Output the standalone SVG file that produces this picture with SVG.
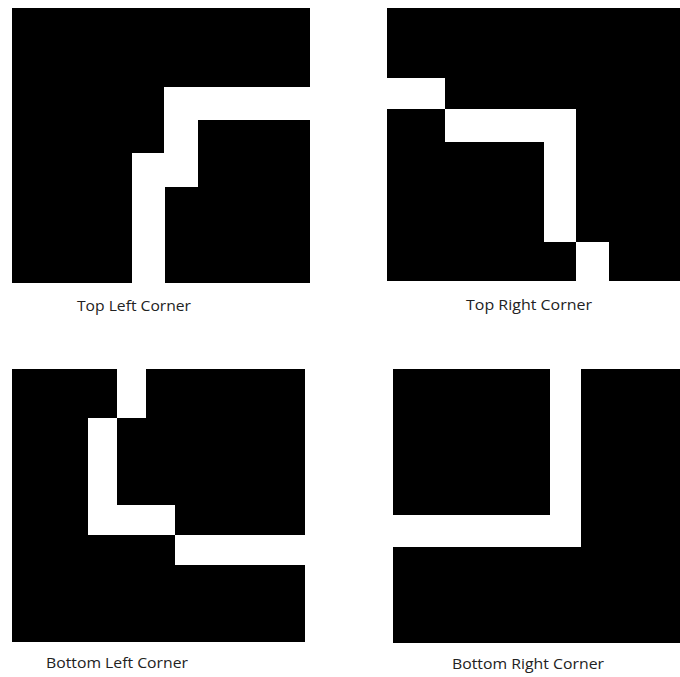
<svg xmlns="http://www.w3.org/2000/svg" width="680" height="677" viewBox="0 0 680 677">
<style>
.blk{fill:#000}
.lbl{font-family:"Open Sans","Noto Sans","Liberation Sans",sans-serif;font-size:14px;fill:#222;text-anchor:middle}
</style>
<rect width="680" height="677" fill="#fff"/>
<g id="top-left">
<polygon class="blk" points="12,8 310,8 310,87 164,87 164,153 132,153 132,283 12,283"/>
<polygon class="blk" points="198,120 310,120 310,283 165,283 165,187 198,187"/>
<text class="lbl" x="134" y="311" textLength="114" lengthAdjust="spacingAndGlyphs">Top Left Corner</text>
</g>
<g id="top-right">
<polygon class="blk" points="387,8 680,8 680,281 609,281 609,242 576,242 576,109 445,109 445,78 387,78"/>
<polygon class="blk" points="387,109 445,109 445,142 544,142 544,242 576,242 576,281 387,281"/>
<text class="lbl" x="529" y="310" textLength="126" lengthAdjust="spacingAndGlyphs">Top Right Corner</text>
</g>
<g id="bottom-left">
<polygon class="blk" points="12,369 117,369 117,418 88,418 88,535 175,535 175,565 305,565 305,642 12,642"/>
<polygon class="blk" points="146,369 305,369 305,535 175,535 175,505 117,505 117,418 146,418"/>
<text class="lbl" x="117" y="668" textLength="142" lengthAdjust="spacingAndGlyphs">Bottom Left Corner</text>
</g>
<g id="bottom-right">
<rect class="blk" x="393" y="369" width="157" height="146"/>
<polygon class="blk" points="581,369 680,369 680,643 393,643 393,547 581,547"/>
<text class="lbl" x="528" y="669" textLength="152" lengthAdjust="spacingAndGlyphs">Bottom Right Corner</text>
</g>
</svg>
